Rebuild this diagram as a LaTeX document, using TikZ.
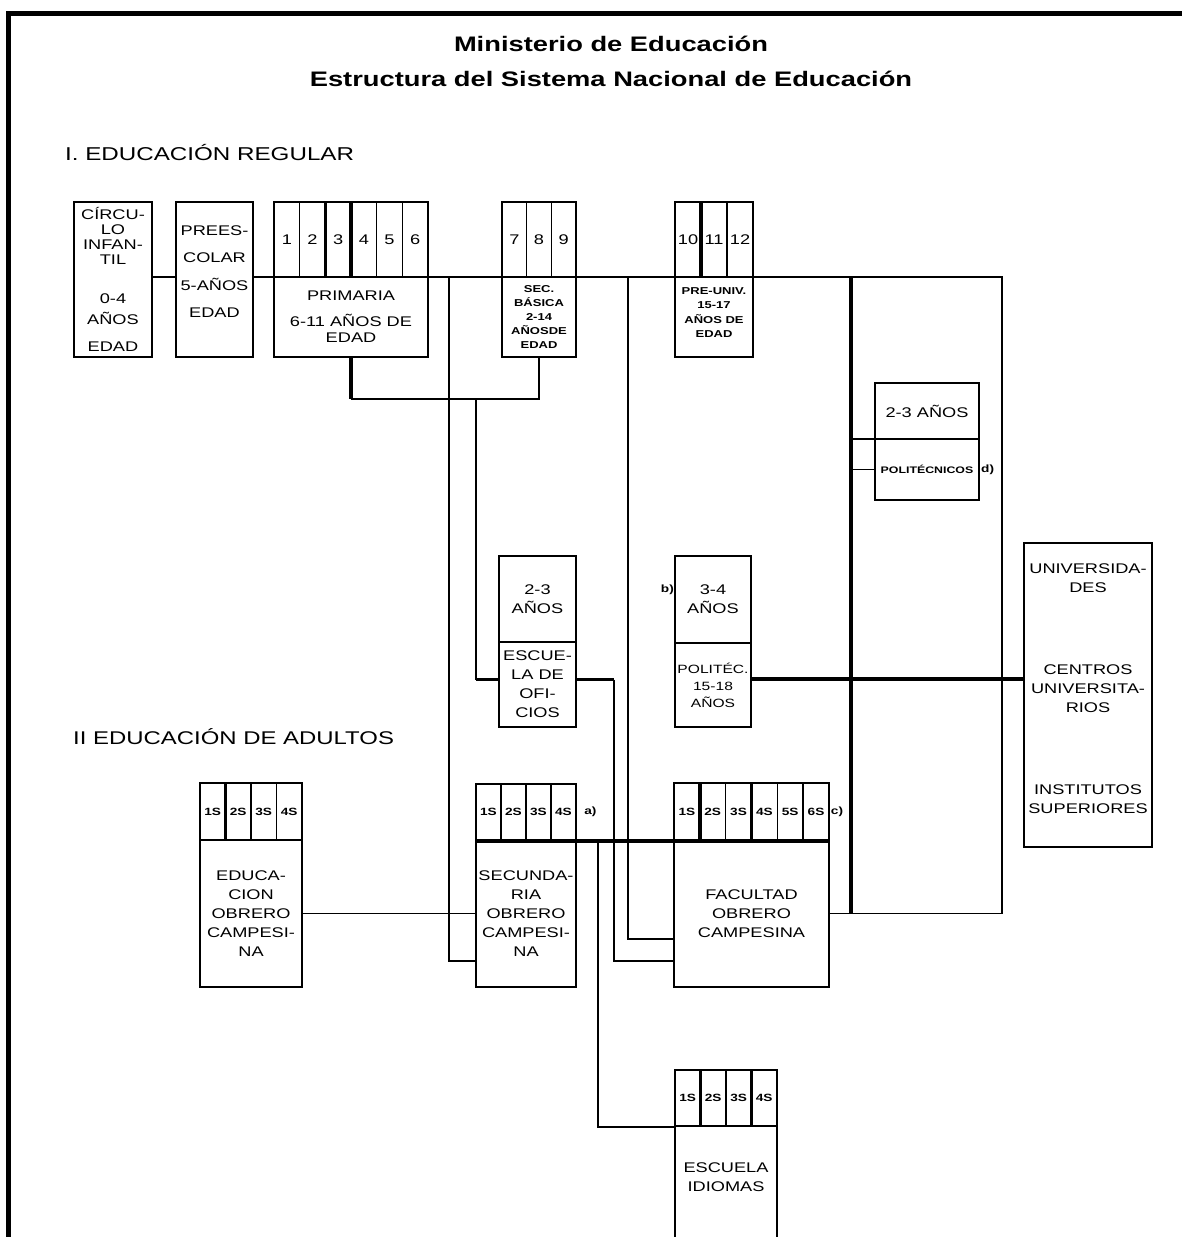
\documentclass[tikz,border=0pt]{standalone}
\usepackage{fontspec}
\setmainfont{Liberation Sans}[FakeStretch=1.3]
\usetikzlibrary{matrix, positioning}

\begin{document}
\begin{tikzpicture}[x=1pt, y=-1pt, line join=miter,
  box/.style={draw, line width=1.5pt, outer sep=0pt, inner sep=0pt, align=center, font=\fontsize{14}{19}\selectfont},
  note/.style={font=\fontsize{10.5}{14}\selectfont\bfseries},
  grades/.style 2 args={matrix of nodes, inner sep=0pt, outer sep=0pt, column sep=-1.5pt, anchor=north west,
    nodes={draw, line width=1.5pt, outer sep=0pt, inner sep=0pt, anchor=center, minimum width=#1, minimum height=#2, font=\fontsize{14}{16}\selectfont}},
  link/.style={line width=1.5pt},
  heavy/.style={line width=3.5pt}]
\useasboundingbox (0,0) rectangle (1182,1237);
\clip (0,0) rectangle (1182,1237);
\draw[line width=5pt] (1182,13) -- (8,13) -- (8,1237);

\node[font=\fontsize{21}{24}\selectfont\bfseries] (titulo) at (611,44) {Ministerio de Educación};
\node[font=\fontsize{21}{24}\selectfont\bfseries] (subtitulo) at (611,79) {Estructura del Sistema Nacional de Educación};
\node[font=\fontsize{18.6}{20}\selectfont, anchor=west, inner sep=0pt] (regular) at (65,153) {I. EDUCACIÓN REGULAR};
\node[font=\fontsize{18.4}{20}\selectfont, anchor=west, inner sep=0pt] (adultos) at (73,737) {II EDUCACIÓN DE ADULTOS};

% educacion regular
\node[box, font=\fontsize{14}{15}\selectfont, minimum width=78, minimum height=155] (circulo) at (113,279.5) {CÍRCU-\\LO\\INFAN-\\TIL\\[24pt]0-4\\[6pt]AÑOS\\[12pt]EDAD};
\node[box, font=\fontsize{14}{27.5}\selectfont, minimum width=77, minimum height=155] (preesc) at (214.5,279.5) {PREES-\\COLAR\\5-AÑOS\\EDAD\\[-11.5pt]\mbox{}};

\matrix (primG) [grades={25.67}{75}] at (273.25,201.25) {1 & 2 & 3 & 4 & 5 & 6 \\};
\node[box, font=\fontsize{14}{16}\selectfont, minimum width=154, minimum height=80, below=-0.75pt of primG] (prim) {PRIMARIA\\[10pt]6-11 AÑOS DE\\EDAD};
\foreach \c in {2,3} \draw[heavy] (primG-1-\c.north east) -- (primG-1-\c.south east);

\matrix (basicaG) [grades={24.67}{75}] at (501.25,201.25) {7 & 8 & 9 \\};
\node[box, note, font=\fontsize{10}{14}\selectfont\bfseries, minimum width=74, minimum height=80, below=-0.75pt of basicaG] (basica) {SEC.\\BÁSICA\\2-14\\AÑOSDE\\EDAD};

\matrix (preuG) [grades={26}{75}] at (674.25,201.25) {10 & 11 & 12 \\};
\node[box, note, font=\fontsize{10}{14.5}\selectfont\bfseries, minimum width=78, minimum height=80, below=-0.75pt of preuG] (preu) {PRE-UNIV.\\15-17\\AÑOS DE\\EDAD\\[-6pt]\mbox{}};
\draw[heavy] (preuG-1-1.north east) -- (preuG-1-1.south east);

\node[box, minimum width=104, minimum height=56] (poliA) at (927,411) {2-3 AÑOS};
\node[box, font=\fontsize{9.5}{12}\selectfont\bfseries, minimum width=104, minimum height=61, below=0pt of poliA] (poli) {POLITÉCNICOS};
\node[note, anchor=west, inner sep=2pt] (notaD) at (poli.east) {d)};

\node[box, minimum width=77, minimum height=86] (ofiA) at (537.5,599) {2-3\\AÑOS};
\node[box, minimum width=77, minimum height=85, below=0pt of ofiA] (ofi) {ESCUE-\\LA DE\\OFI-\\CIOS};

\node[box, minimum width=76, minimum height=87] (tecA) at (713,599.5) {3-4\\AÑOS};
\node[box, font=\fontsize{12}{17}\selectfont, minimum width=76, minimum height=84, below=0pt of tecA] (tec) {POLITÉC.\\15-18\\AÑOS};
\node[note, anchor=east, inner sep=1pt] (notaB) at ([yshift=10pt]tecA.west) {b)};

\node[box, minimum width=128, minimum height=304] (univ) at (1088,695) {UNIVERSIDA-\\DES\\[63pt]CENTROS\\UNIVERSITA-\\RIOS\\[63pt]INSTITUTOS\\SUPERIORES\\[-7pt]\mbox{}};

% educacion de adultos
\matrix (eocG) [grades={25.5}{57}, nodes={note}] at (199.25,782.25) {1S & 2S & 3S & 4S \\};
\node[box, minimum width=102, minimum height=147, below=-0.75pt of eocG] (eoc) {EDUCA-\\CION\\OBRERO\\CAMPESI-\\NA};
\draw[heavy] (eocG-1-1.north east) -- (eocG-1-1.south east);

\matrix (secG) [grades={25}{56}, nodes={note}] at (475.25,783.25) {1S & 2S & 3S & 4S \\};
\node[box, minimum width=100, minimum height=147, below=-0.75pt of secG] (sec) {SECUNDA-\\RIA\\OBRERO\\CAMPESI-\\NA};
\node[note, anchor=west] (notaA) at ([xshift=4pt]secG.east) {a)};

\matrix (facG) [grades={25.83}{57}, nodes={note}] at (673.25,782.25) {1S & 2S & 3S & 4S & 5S & 6S \\};
\node[box, minimum width=155, minimum height=147, below=-0.75pt of facG] (fac) {FACULTAD\\OBRERO\\CAMPESINA};
\foreach \c in {1,3} \draw[heavy] (facG-1-\c.north east) -- (facG-1-\c.south east);
\node[note, anchor=west, inner sep=1pt] (notaC) at (facG.east) {c)};

\matrix (idiG) [grades={25.5}{56}, nodes={note}] at (674.25,1069.25) {1S & 2S & 3S & 4S \\};
\node[box, minimum width=102, minimum height=122, below=-0.75pt of idiG] (idi) {ESCUELA\\IDIOMAS\\\mbox{}};
\foreach \c in {1,3} \draw[heavy] (idiG-1-\c.north east) -- (idiG-1-\c.south east);

% lineas
\coordinate (busE) at (1002,277);
\coordinate (busSE) at (busE |- fac.east);
\coordinate (spine) at (851,277);
\coordinate (tapA) at (449,277);
\coordinate (tapD) at (628,277);
\draw[link] (circulo.east |- prim.north) -- (preesc.west |- prim.north);
\draw[link] (preesc.east |- prim.north) -- (prim.north west);
\draw[link] (prim.north east) -- (basica.north west);
\draw[link] (basica.north east) -- (preu.north west);
\draw[link] (preu.north east) -- (busE) -- (busSE) -- (fac.east);
\draw[heavy] (spine) -- (spine |- fac.east);
\draw[link] (spine |- poliA.south west) -- (poliA.south west);
\draw[link] (spine |- poli.west) -- (poli.west);
\coordinate (tecR) at ([yshift=6pt]tec.east);
\draw[heavy] (tecR) -- (tecR -| univ.west);

\draw[heavy] (prim.south -| primG-1-3.south east) -- ++(0,42) coordinate (jn);
\draw[link] (jn) -- (jn -| basica.south) -- (basica.south);
\coordinate (lowA) at ([yshift=26pt]sec.south west);
\draw[link] (tapA) -- (tapA |- lowA) -- (lowA);
\coordinate (tapB) at (jn -| sec.west);
\coordinate (hiB) at ([yshift=5pt]ofi.west);
\draw[link] (tapB) -- (tapB |- hiB);
\draw[heavy] (tapB |- hiB) -- (hiB);
\coordinate (lowB) at ([yshift=26pt]fac.south west);
\draw[heavy] ([yshift=5pt]ofi.east) -- ++(38,0) coordinate (kB);
\draw[link] (kB) -- (kB |- lowB) -- (lowB);
\coordinate (lowD) at ([yshift=48pt]fac.south west);
\draw[link] (tapD) -- (tapD |- lowD) -- (lowD);

\draw[link] (eoc.east) -- (sec.west);
\draw[heavy] (secG.south west) -- (facG.south east);
\coordinate (tapC) at ([xshift=21pt]secG.south east);
\draw[link] (tapC) -- (tapC |- idiG.south west) -- (idiG.south west);
\end{tikzpicture}
\end{document}
